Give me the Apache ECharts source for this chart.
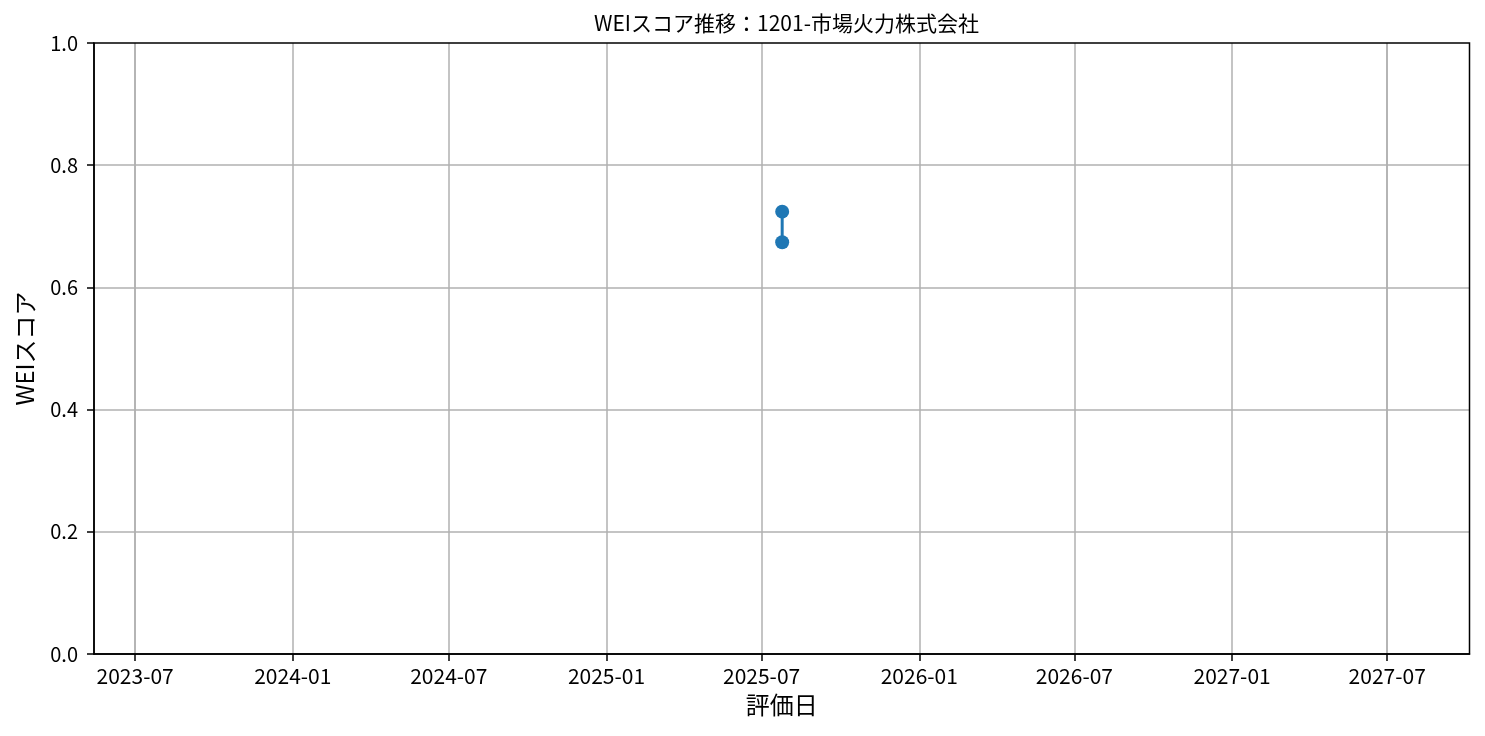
<!DOCTYPE html>
<html>
<head>
<meta charset="utf-8">
<title>WEIスコア推移</title>
<script src="https://cdn.jsdelivr.net/npm/echarts@6/dist/echarts.min.js"></script>
<style>
  html, body { margin: 0; padding: 0; background: #fff; }
  #main { width: 1485px; height: 736px; }
</style>
</head>
<body>
<div id="main"></div>
<script>
// データ
var evalDates = ['2025-07-25', '2025-07-25'];
var weiScores = [0.724, 0.674];
var tickDates = ['2023-07-01', '2024-01-01', '2024-07-01', '2025-01-01', '2025-07-01',
                 '2026-01-01', '2026-07-01', '2027-01-01', '2027-07-01'];
var xMin = '2023-05-14';
var xMax = '2027-10-05';

var fontJP = '"Noto Sans CJK JP", "Noto Sans", sans-serif';
var tickValues = tickDates.map(function (d) { return +new Date(d + 'T00:00:00'); });

var myChart = echarts.init(document.getElementById('main'));

var option = {
  animation: false,
  backgroundColor: '#fff',
  title: {
    text: 'WEIスコア推移：1201-市場火力株式会社',
    left: 781.5,
    textAlign: 'center',
    top: 8,
    textStyle: { fontFamily: fontJP, fontSize: 21, fontWeight: 'normal', color: '#000' }
  },
  grid: {
    left: 94, right: 15.5, top: 43, bottom: 82,
    show: true, borderColor: '#000', borderWidth: 1.5, z: 3
  },
  xAxis: {
    type: 'time',
    min: xMin,
    max: xMax,
    name: '評価日',
    nameLocation: 'middle',
    nameGap: 39,
    nameTextStyle: { fontFamily: fontJP, fontSize: 24, color: '#000' },
    axisLine: { show: true, onZero: false, lineStyle: { color: '#000', width: 1.5 } },
    axisTick: { show: true, length: 7, customValues: tickValues, lineStyle: { color: '#000', width: 1.5 } },
    axisLabel: {
      customValues: tickValues,
      margin: 12,
      fontFamily: fontJP, fontSize: 21, color: '#000',
      formatter: '{yyyy}-{MM}',
      hideOverlap: false
    },
    splitLine: { show: true, lineStyle: { color: '#b0b0b0', width: 1.5 } }
  },
  yAxis: {
    type: 'value',
    min: 0,
    max: 1,
    interval: 0.2,
    name: 'WEIスコア',
    nameLocation: 'middle',
    nameGap: 57,
    nameTextStyle: { fontFamily: fontJP, fontSize: 24, color: '#000' },
    axisLine: { show: true, lineStyle: { color: '#000', width: 1.5 } },
    axisTick: { show: true, length: 7, lineStyle: { color: '#000', width: 1.5 } },
    axisLabel: {
      margin: 16,
      fontFamily: fontJP, fontSize: 20, color: '#000',
      formatter: function (v) { return v.toFixed(1); }
    },
    splitLine: { show: true, showMaxLine: false, lineStyle: { color: '#b0b0b0', width: 1.5 } }
  },
  series: [{
    type: 'line',
    data: evalDates.map(function (d, i) { return [d, weiScores[i]]; }),
    symbol: 'circle',
    symbolSize: 14,
    showSymbol: true,
    lineStyle: { color: '#1f77b4', width: 3 },
    itemStyle: { color: '#1f77b4' }
  }]
};

myChart.setOption(option);
</script>
</body>
</html>
